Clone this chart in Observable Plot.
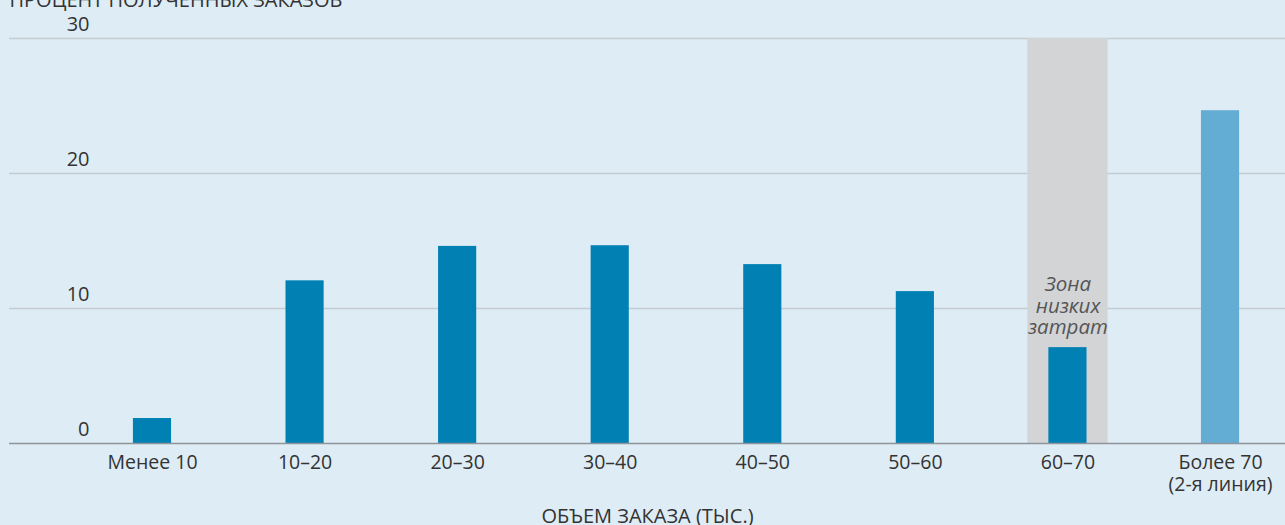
<!DOCTYPE html>
<html><head><meta charset="utf-8">
<script src="https://cdn.jsdelivr.net/npm/d3@7"></script>
<script src="https://cdn.jsdelivr.net/npm/@observablehq/plot@0.6"></script>
<style>
html,body{margin:0;padding:0;background:#deecf5;overflow:hidden;}
#chart{width:1285px;height:525px;}
</style></head>
<body><div id="chart"></div>
<script>
const categories = ["Менее 10","10–20","20–30","30–40","40–50","50–60","60–70","Более 70"];
const tickLabels = ["Менее 10","10–20","20–30","30–40","40–50","50–60","60–70","Более 70\n(2-я линия)"];
const values = [1.85, 12.05, 14.6, 14.65, 13.25, 11.25, 7.1, 24.65];
const series = ["main","main","main","main","main","main","main","second"];
const yTicks = [0, 10, 20, 30];
const zoneCategory = "60–70";
const zoneMax = 30;
const zoneText = "Зона\nнизких\nзатрат";
const yTitle = "ПРОЦЕНТ ПОЛУЧЕННЫХ ЗАКАЗОВ";
const xTitle = "ОБЪЕМ ЗАКАЗА (ТЫС.)";

const data = categories.map((c, i) => ({cat: c, value: values[i], s: series[i]}));
const labelOf = new Map(categories.map((c, i) => [c, tickLabels[i]]));

const chart = Plot.plot({
  width: 1285, height: 525,
  marginLeft: 9, marginRight: 0, marginTop: 38, marginBottom: 82,
  style: {background: "transparent", fontFamily: "'Open Sans', sans-serif", color: "#333"},
  x: {type: "band", domain: categories, range: [75.7, 1296.3], paddingInner: 0.75, paddingOuter: 0.375, round: false},
  y: {domain: [0, 30], range: [443, 38]},
  color: {domain: ["main","second"], range: ["#0080b3", "#63acd3"]},
  marks: [
    Plot.ruleY(yTicks.filter(d => d > 0), {stroke: "#c3cbd3", strokeWidth: 1.3}),
    Plot.barY([{cat: zoneCategory, v: zoneMax}], {x: "cat", y: "v", fill: "#d2d4d6", insetLeft: -21, insetRight: -21}),
    Plot.barY(data, {x: "cat", y: "value", fill: "s"}),
    Plot.ruleY([0], {stroke: "#8e949a", strokeWidth: 1.3}),
    Plot.axisY(yTicks, {tickSize: 0, tickPadding: 0, dx: 80, dy: -14, fontSize: 20, fill: "#333", label: null}),
    Plot.axisX({tickSize: 0, tickPadding: 10, fontSize: 19.5, fill: "#333", label: null, tickFormat: d => labelOf.get(d), lineHeight: 1.13}),
    Plot.text([{cat: zoneCategory, v: values[6]}], {x: "cat", y: "v", text: () => zoneText, lineAnchor: "bottom", dy: -14, fontSize: 20.5, fontStyle: "italic", fill: "#555", lineHeight: 1.03}),
    Plot.text([xTitle], {frameAnchor: "bottom", dy: 79, text: d => d, fontSize: 20, fill: "#333"}),
    Plot.text([yTitle], {frameAnchor: "top-left", dy: -32, textAnchor: "start", lineAnchor: "bottom", text: d => d, fontSize: 20, fill: "#333"})
  ]
});
document.getElementById("chart").appendChild(chart);
</script>
</body></html>
